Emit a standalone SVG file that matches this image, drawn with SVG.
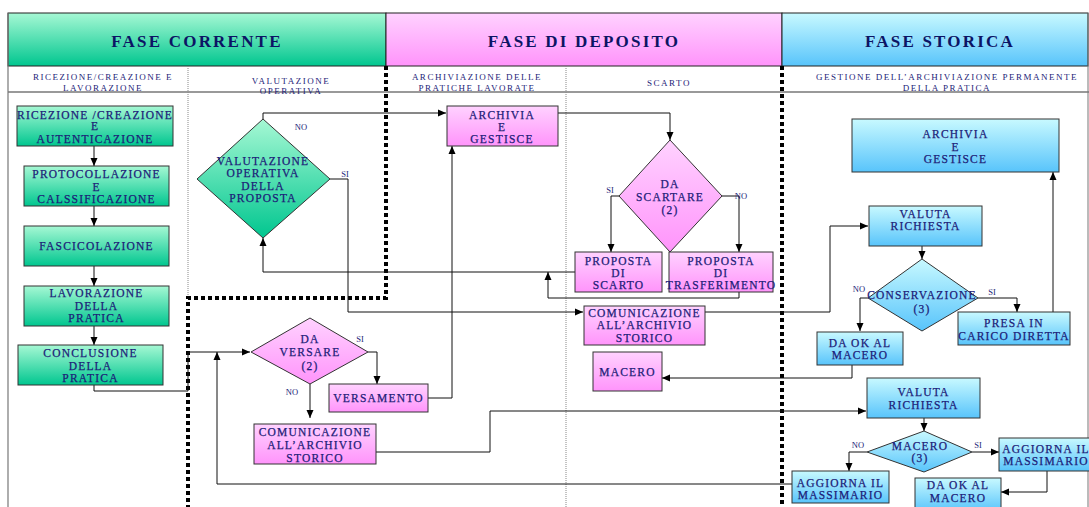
<svg xmlns="http://www.w3.org/2000/svg" width="1089" height="507" viewBox="0 0 1089 507">
<defs>
<linearGradient id="gG" x1="0" y1="0" x2="0" y2="1"><stop offset="0" stop-color="#a6f8d4"/><stop offset="1" stop-color="#00c68f"/></linearGradient>
<linearGradient id="gP" x1="0" y1="0" x2="0" y2="1"><stop offset="0" stop-color="#ffd2ff"/><stop offset="1" stop-color="#ff94fb"/></linearGradient>
<linearGradient id="gB" x1="0" y1="0" x2="0" y2="1"><stop offset="0" stop-color="#c8f9ff"/><stop offset="1" stop-color="#58c4fb"/></linearGradient>
<marker id="ah" markerWidth="8" markerHeight="8" refX="8" refY="4" orient="auto" markerUnits="userSpaceOnUse"><path d="M0,0.5 L8,4 L0,7.5 z" fill="#000"/></marker>
<style>
.bx{stroke:#333;stroke-width:1}
.g{fill:url(#gG)} .p{fill:url(#gP)} .b{fill:url(#gB)}
text{font-family:"Liberation Serif","Times New Roman",serif;fill:#1c1c78;text-anchor:middle}
.t{font-size:11.5px;letter-spacing:1.2px;stroke:#1c1c78;stroke-width:0.25}
.h{font-size:17px;font-weight:bold;letter-spacing:2.2px;fill:#0c1464}
.s{font-size:9px;letter-spacing:1.5px}
.l{font-size:8.5px}
.c{fill:none;stroke:#111;stroke-width:1}
.ca{fill:none;stroke:#111;stroke-width:1;marker-end:url(#ah)}
.thick{fill:none;stroke:#000;stroke-width:4;stroke-dasharray:4 3}
.thin{fill:none;stroke:#888;stroke-width:1;stroke-dasharray:1 1}
</style>
</defs>
<rect width="1089" height="507" fill="#fff"/>
<g id="table">
<rect x="8" y="13" width="378" height="53" fill="url(#gG)" stroke="#222"/>
<rect x="386" y="13" width="396" height="53" fill="url(#gP)" stroke="#222"/>
<rect x="782" y="13" width="306" height="53" fill="url(#gB)" stroke="#222"/>
<text class="h" x="197" y="47">FASE CORRENTE</text>
<text class="h" x="584" y="47">FASE DI DEPOSITO</text>
<text class="h" x="940" y="47">FASE STORICA</text>
<line x1="8" y1="13" x2="8" y2="507" stroke="#777" stroke-width="1.2"/>
<line x1="1088" y1="13" x2="1088" y2="507" stroke="#777" stroke-width="1"/>
<line x1="8" y1="92" x2="1089" y2="92" stroke="#777" stroke-width="1.5"/>
<line class="thin" x1="188" y1="66" x2="188" y2="298"/>
<line class="thin" x1="566" y1="66" x2="566" y2="507"/>
<text class="s" x="103" y="80">RICEZIONE/CREAZIONE  E</text>
<text class="s" x="103" y="91">LAVORAZIONE</text>
<text class="s" x="291" y="84">VALUTAZIONE</text>
<text class="s" x="291" y="94">OPERATIVA</text>
<text class="s" x="477" y="80">ARCHIVIAZIONE DELLE</text>
<text class="s" x="477" y="91">PRATICHE LAVORATE</text>
<text class="s" x="669" y="86">SCARTO</text>
<text class="s" x="947" y="80">GESTIONE DELL’ARCHIVIAZIONE PERMANENTE</text>
<text class="s" x="947" y="91">DELLA PRATICA</text>
<path class="thick" d="M386,66 V298 H188 V507"/>
<path class="thick" d="M782,66 V507"/>
</g>
<g id="connectors">
<line class="ca" x1="94" y1="146" x2="94" y2="166"/>
<line class="ca" x1="94" y1="206" x2="94" y2="226"/>
<line class="ca" x1="94" y1="266" x2="94" y2="286"/>
<line class="ca" x1="94" y1="326" x2="94" y2="345"/>
<path class="ca" d="M94,385 V391 H188 V352 H250"/>
<path class="ca" d="M368,352 H377 V384"/>
<path class="ca" d="M310,384 V418"/>
<path class="ca" d="M428,398 H452 V146"/>
<path class="ca" d="M376,452 H490 V411 H866"/>
<path class="ca" d="M263,119 V113 H446"/>
<path class="ca" d="M330,179 H348 V312 H583"/>
<path class="ca" d="M575,272 H263 V238"/>
<path class="ca" d="M739,292 V298 H548 V272"/>
<path class="ca" d="M558,113 H670 V140"/>
<path class="ca" d="M619,196 H611 V252"/>
<path class="ca" d="M722,196 H739 V252"/>
<path class="ca" d="M705,312 H830 V226 H868"/>
<path class="ca" d="M852,365 V378 H662"/>
<path class="ca" d="M922,246 V259"/>
<path class="ca" d="M868,298 H860 V331"/>
<path class="ca" d="M978,298 H1017 V312"/>
<path class="ca" d="M1053,312 V172"/>
<path class="ca" d="M924,418 V431"/>
<path class="ca" d="M867,452 H849 V471"/>
<path class="ca" d="M972,452 H999"/>
<path class="ca" d="M1047,471 V492 H1001"/>
<path class="ca" d="M792,484 H217 V352"/>
<text class="l" x="301" y="130">NO</text>
<text class="l" x="345" y="177">SI</text>
<text class="l" x="360" y="342">SI</text>
<text class="l" x="292" y="395">NO</text>
<text class="l" x="610" y="193">SI</text>
<text class="l" x="741" y="199">NO</text>
<text class="l" x="859" y="292">NO</text>
<text class="l" x="992" y="295">SI</text>
<text class="l" x="858" y="448">NO</text>
<text class="l" x="978" y="448">SI</text>
</g>
<g id="n-ricezione"><rect class="bx g" x="17" y="106" width="156" height="40"/><text class="t" x="95" y="119">RICEZIONE /CREAZIONE</text><text class="t" x="95" y="130">E</text><text class="t" x="95" y="143">AUTENTICAZIONE</text></g>
<g id="n-protocollazione"><rect class="bx g" x="24" y="166" width="145" height="40"/><text class="t" x="96.5" y="178">PROTOCOLLAZIONE</text><text class="t" x="96.5" y="191">E</text><text class="t" x="96.5" y="203">CALSSIFICAZIONE</text></g>
<g id="n-fascicolazione"><rect class="bx g" x="24" y="226" width="145" height="40"/><text class="t" x="96.5" y="250">FASCICOLAZIONE</text></g>
<g id="n-lavorazione"><rect class="bx g" x="24" y="286" width="145" height="40"/><text class="t" x="96.5" y="297">LAVORAZIONE</text><text class="t" x="96.5" y="310">DELLA</text><text class="t" x="96.5" y="322">PRATICA</text></g>
<g id="n-conclusione"><rect class="bx g" x="18" y="345" width="145" height="40"/><text class="t" x="90.5" y="357">CONCLUSIONE</text><text class="t" x="90.5" y="370">DELLA</text><text class="t" x="90.5" y="382">PRATICA</text></g>
<g id="n-valutazione"><polygon class="bx g" points="197,179 263,119 330,179 263,238"/><text class="t" x="263" y="165">VALUTAZIONE</text><text class="t" x="263" y="177">OPERATIVA</text><text class="t" x="263" y="190">DELLA</text><text class="t" x="263" y="202">PROPOSTA</text></g>
<g id="n-daversare"><polygon class="bx p" points="251,352 310,318 368,352 310,384"/><text class="t" x="310" y="343">DA</text><text class="t" x="310" y="356">VERSARE</text><text class="t" x="310" y="370">(2)</text></g>
<g id="n-versamento"><rect class="bx p" x="329" y="384" width="99" height="28"/><text class="t" x="378.5" y="402">VERSAMENTO</text></g>
<g id="n-comunicazione1"><rect class="bx p" x="254" y="424" width="122" height="40"/><text class="t" x="315" y="436">COMUNICAZIONE</text><text class="t" x="315" y="449">ALL’ARCHIVIO</text><text class="t" x="315" y="462">STORICO</text></g>
<g id="n-archivia1"><rect class="bx p" x="447" y="106" width="111" height="40"/><text class="t" x="502" y="119">ARCHIVIA</text><text class="t" x="502" y="131">E</text><text class="t" x="502" y="143">GESTISCE</text></g>
<g id="n-dascartare"><polygon class="bx p" points="619,196 670,140 722,196 670,252"/><text class="t" x="670" y="188">DA</text><text class="t" x="670" y="201">SCARTARE</text><text class="t" x="670" y="214">(2)</text></g>
<g id="n-propscarto"><rect class="bx p" x="575" y="252" width="87" height="40"/><text class="t" x="618.5" y="265">PROPOSTA</text><text class="t" x="618.5" y="277">DI</text><text class="t" x="618.5" y="289">SCARTO</text></g>
<g id="n-proptrasf"><rect class="bx p" x="669" y="252" width="104" height="40"/><text class="t" x="721" y="265">PROPOSTA</text><text class="t" x="721" y="277">DI</text><text class="t" x="721" y="289">TRASFERIMENTO</text></g>
<g id="n-comunicazione2"><rect class="bx p" x="584" y="306" width="121" height="39"/><text class="t" x="644.5" y="317">COMUNICAZIONE</text><text class="t" x="644.5" y="329">ALL’ARCHIVIO</text><text class="t" x="644.5" y="342">STORICO</text></g>
<g id="n-macero"><rect class="bx p" x="593" y="352" width="69" height="39"/><text class="t" x="627.5" y="376">MACERO</text></g>
<g id="n-archivia2"><rect class="bx b" x="852" y="119" width="207" height="53"/><text class="t" x="955.5" y="138">ARCHIVIA</text><text class="t" x="955.5" y="151">E</text><text class="t" x="955.5" y="163">GESTISCE</text></g>
<g id="n-valuta1"><rect class="bx b" x="869" y="206" width="113" height="40"/><text class="t" x="925.5" y="218">VALUTA</text><text class="t" x="925.5" y="230">RICHIESTA</text></g>
<g id="n-conservazione"><polygon class="bx b" points="868,298 922,259 978,298 922,331"/><text class="t" x="922" y="299">CONSERVAZIONE</text><text class="t" x="922" y="313">(3)</text></g>
<g id="n-presa"><rect class="bx b" x="958" y="312" width="112" height="33"/><text class="t" x="1014" y="327">PRESA IN</text><text class="t" x="1014" y="340">CARICO DIRETTA</text></g>
<g id="n-daok1"><rect class="bx b" x="817" y="332" width="86" height="33"/><text class="t" x="860" y="347">DA  OK  AL</text><text class="t" x="860" y="359">MACERO</text></g>
<g id="n-valuta2"><rect class="bx b" x="867" y="378" width="113" height="40"/><text class="t" x="923.5" y="396">VALUTA</text><text class="t" x="923.5" y="409">RICHIESTA</text></g>
<g id="n-macero2"><polygon class="bx b" points="867,452 924,431 972,452 924,472"/><text class="t" x="920" y="450">MACERO</text><text class="t" x="920" y="462">(3)</text></g>
<g id="n-aggiorna2"><rect class="bx b" x="999" y="438" width="95" height="33"/><text class="t" x="1046" y="453">AGGIORNA IL</text><text class="t" x="1046" y="465">MASSIMARIO</text></g>
<g id="n-daok2"><rect class="bx b" x="915" y="478" width="86" height="34"/><text class="t" x="958" y="489">DA  OK  AL</text><text class="t" x="958" y="502">MACERO</text></g>
<g id="n-aggiorna1"><rect class="bx b" x="792" y="471" width="97" height="32"/><text class="t" x="840.5" y="487">AGGIORNA IL</text><text class="t" x="840.5" y="499">MASSIMARIO</text></g>
</svg>
